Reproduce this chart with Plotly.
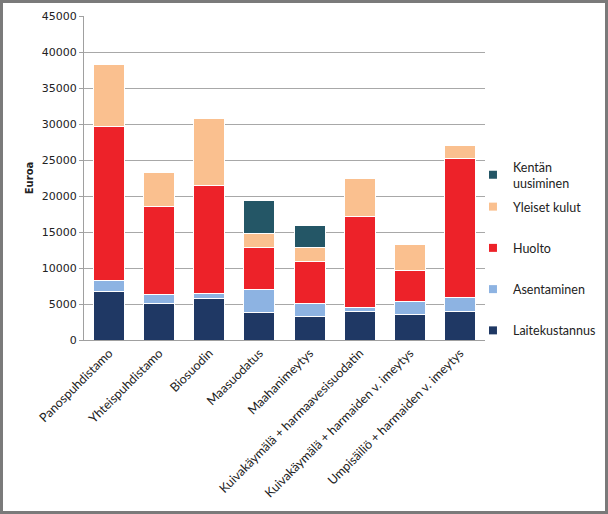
import plotly.graph_objects as go

categories = ["Panospuhdistamo", "Yhteispuhdistamo", "Biosuodin", "Maasuodatus",
              "Maahanimeytys", "Kuivakäymälä + harmaavesisuodatin",
              "Kuivakäymälä + harmaiden v. imeytys", "Umpisäiliö + harmaiden v. imeytys"]
laitekustannus = [6800, 5100, 5800, 3800, 3200, 4000, 3600, 3900]
asentaminen = [1450, 1200, 700, 3200, 1900, 500, 1700, 2000]
huolto = [21450, 12300, 15000, 5900, 5800, 12600, 4300, 19300]
yleiset_kulut = [8500, 4600, 9300, 1900, 1900, 5400, 3600, 1800]
kentan_uusiminen = [None, None, None, 4600, 3100, None, None, None]

series = [
    ("Laitekustannus", laitekustannus, "#1F3864"),
    ("Asentaminen", asentaminen, "#8DB3E2"),
    ("Huolto", huolto, "#ED2229"),
    ("Yleiset kulut", yleiset_kulut, "#FAC08F"),
    ("Kentän<br>uusiminen", kentan_uusiminen, "#245666"),
]

W, H = 608, 514
ML, MR, MT, MB = 84, 123, 16, 174
PW, PH = W - ML - MR, H - MT - MB

fig = go.Figure()
n = len(series)
for i, (name, vals, col) in enumerate(series):
    fig.add_trace(go.Bar(x=categories, y=vals, name=name, showlegend=False,
                         marker=dict(color=col, line=dict(color="white", width=1))))
for i, (name, vals, col) in enumerate(series):
    # legend-only entry with a small square swatch
    fig.add_trace(go.Scatter(x=[None], y=[None], mode="markers", name=name,
                             legendgroup=str(i), legendrank=100 + (n - i),
                             legend="legend2" if i == n - 1 else "legend",
                             marker=dict(symbol="square", size=8, color=col)))

legend_font = dict(family="Lato", size=12.5, color="#222222")
fig.update_layout(
    width=W, height=H, barmode="stack", bargap=0.38,
    margin=dict(l=ML, r=MR, t=MT, b=MB, autoexpand=False),
    paper_bgcolor="white", plot_bgcolor="white",
    font=dict(family="Lato", color="#222222"),
    legend=dict(traceorder="grouped", tracegroupgap=22,
                x=0.97, xanchor="left", y=1 - (268.5 - MT) / PH, yanchor="middle",
                font=legend_font, itemwidth=30, bgcolor="rgba(0,0,0,0)"),
    legend2=dict(x=0.97, xanchor="left", y=1 - (175 - MT) / PH, yanchor="middle",
                 font=legend_font, itemwidth=30, bgcolor="rgba(0,0,0,0)"),
    showlegend=True,
)
fig.update_yaxes(range=[0, 45000], dtick=5000, tickformat="d", showgrid=True, gridcolor="#a8a8a8", gridwidth=1,
                 showline=True, linecolor="#a0a0a0", ticks="outside", ticklen=4, tickcolor="#a0a0a0",
                 tickfont=dict(family="DejaVu Sans", size=11, color="#222222"),
                 title=dict(text="<b>Euroa</b>", font=dict(family="DejaVu Sans", size=10, color="#222222"), standoff=6),
                 zeroline=False, fixedrange=True, automargin=False)
fig.update_xaxes(tickangle=-45, showline=True, linecolor="#a0a0a0", automargin=False,
                 tickfont=dict(family="Lato", size=12.5, color="#222222"), fixedrange=True)

fig.add_shape(type="rect", xref="paper", yref="paper",
              x0=(-ML + 1.5) / PW, x1=1 + (MR - 1.5) / PW,
              y0=(-MB + 1.5) / PH, y1=1 + (MT - 1.5) / PH,
              line=dict(color="#7a7a7a", width=3), fillcolor="rgba(0,0,0,0)", layer="above")

fig.write_html("out.html", config={"displayModeBar": False},
               post_script="document.body.style.margin='0';document.body.style.overflow='hidden';")
